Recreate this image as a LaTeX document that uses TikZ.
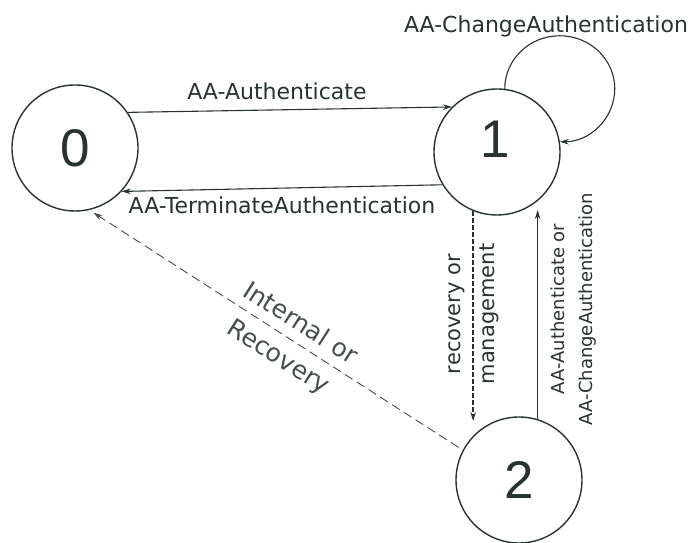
\documentclass[tikz,border=0pt]{standalone}
\usepackage{fontspec}
\setmainfont{DejaVu Sans}
\newfontfamily\digitfont{Liberation Sans}
\usetikzlibrary{arrows.meta}
\definecolor{ink}{RGB}{40,50,46}
\definecolor{inklight}{RGB}{70,78,74}
\begin{document}
\begin{tikzpicture}[x=1pt,y=1pt,
  state/.style={circle, draw=ink, line width=1.4pt, minimum size=126pt,
    inner sep=0pt, text=ink, font=\digitfont\fontsize{53}{53}\selectfont},
  digit/.style={text=ink, inner sep=0pt, font=\digitfont\fontsize{53}{53}\selectfont},
  tip/.style={-{Stealth[length=9pt,width=5.5pt]}},
  edge/.style={draw=ink, line width=1.1pt, tip},
  lbl/.style={text=ink, inner sep=0pt, font=\fontsize{22}{26}\selectfont},
  vlbl/.style={text=ink, inner sep=0pt, align=center, rotate=90},
]
\useasboundingbox (0,0) rectangle (691,543);

% states
\node[state] (n0) at (75,395) {0};
\node[state] (n1) at (497,391) {};
\node[digit] (d1) at (495,404) {1};
\node[state] (n2) at (519,63) {2};

% 0 <-> 1
\draw[edge] (n0.34) -- (n1.135)
  node[lbl, anchor=base, pos=0.46, yshift=10pt] (l01) {AA-Authenticate};
\draw[edge] (n1.211) -- (n0.317);
\node[lbl, anchor=base] (l10) at (282,329) {AA-TerminateAuthentication};

% self loop on 1
\draw[edge] (n1.83) arc[start angle=180, end angle=-90, x radius=55pt, y radius=53pt];
\node[lbl, anchor=base] (l11) at (546,510) {AA-ChangeAuthentication};

% 1 -> 2 (dashed)
\draw[edge, line width=1.6pt, dash pattern=on 5pt off 2pt] (n1.248) -- ++(0,-210);
\node[vlbl, font=\fontsize{21}{34}\selectfont] (l12) at (474,229) {recovery or\\management};

% 2 -> 1
\draw[edge] (n2.73) -- ++(0,209);
\node[vlbl, font=\fontsize{18}{28}\selectfont] (l21) at (574,234) {AA-Authenticate or\\AA-ChangeAuthentication};

% 2 -> 0 (dashed)
\draw[draw=inklight, line width=0.9pt, dash pattern=on 9pt off 5pt, tip,
  shorten <=5pt, shorten >=5pt] (n2.152) -- (n0.283);
\node[text=inklight, inner sep=0pt, align=center, rotate=-32.5,
  font=\fontsize{25}{40}\selectfont] (l20) at (289,202) {Internal or\\Recovery};
\end{tikzpicture}
\end{document}
